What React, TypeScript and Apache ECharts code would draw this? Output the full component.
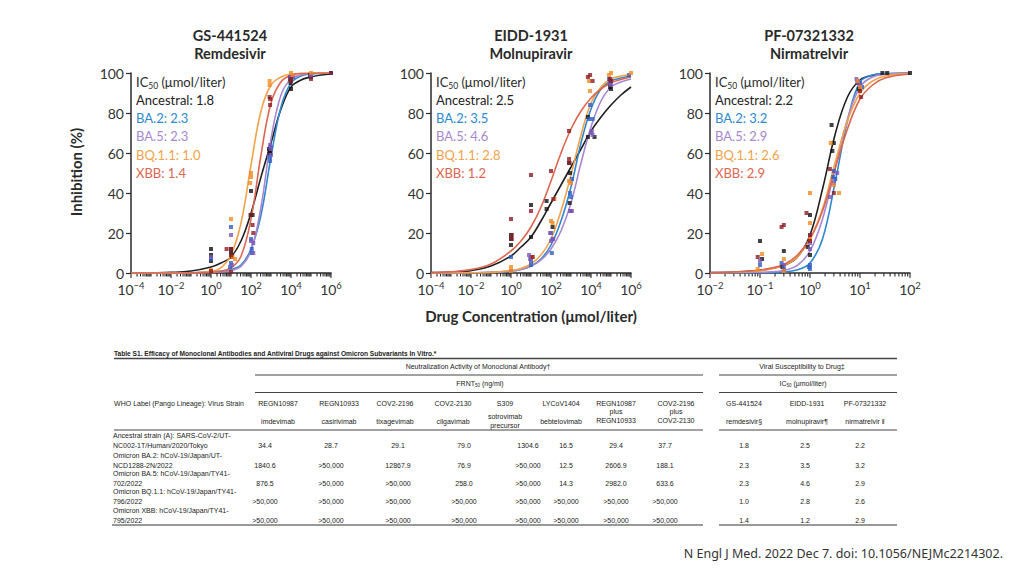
import React, { useEffect, useRef } from "react";
import * as echarts from "echarts";

// ---------- data ----------
const variants = ["Ancestral", "BA.2", "BA.5", "BQ.1.1", "XBB"];
const drugCodes = ["GS-441524", "EIDD-1931", "PF-07321332"];
const drugNames = ["Remdesivir", "Molnupiravir", "Nirmatrelvir"];

// IC50 (µmol/liter) per variant: [remdesivir, molnupiravir, nirmatrelvir]
const ic50 = [
  ["1.8", "2.5", "2.2"],
  ["2.3", "3.5", "3.2"],
  ["2.3", "4.6", "2.9"],
  ["1.0", "2.8", "2.6"],
  ["1.4", "1.2", "2.9"],
];

// fitted curve samples (concentration, inhibition %)
const curveXWide = [0.0001, 0.001, 0.01, 0.1, 1, 3.16, 10, 31.6, 100, 316, 1000, 3162, 10000, 31623, 100000, 316228, 1000000];
const curveXNarrow = [0.01, 0.0316, 0.1, 0.178, 0.316, 0.562, 1, 1.78, 3.16, 5.62, 10, 17.8, 31.6, 100];

const remCurves = [
  [0, 0.1, 0.3, 1, 3, 5, 8, 16, 30, 48, 65, 82, 93, 96.5, 98, 99, 99.5],
  [0, 0, 0, 0.1, 0.5, 1, 1.8, 4, 12, 29, 58, 83, 95, 98.5, 99.5, 99.8, 100],
  [0, 0, 0, 0.05, 0.3, 0.6, 1.2, 3.3, 11, 33, 67, 89, 97, 99, 99.7, 99.9, 100],
  [0, 0, 0, 0.1, 0.8, 2.7, 9, 25, 54, 81, 94, 98, 99.4, 99.8, 99.9, 100, 100],
  [0, 0, 0, 0.05, 0.3, 0.8, 2.5, 8.4, 27, 59, 85, 95.6, 98.9, 99.7, 99.9, 100, 100],
];
const molCurves = [
  [0.2, 0.5, 1.2, 3.5, 8.5, 13, 18, 26, 35, 44, 53, 62, 71, 78, 84, 89, 93],
  [0, 0, 0.1, 0.3, 1, 1.8, 3.5, 7, 14, 26, 43, 65, 82, 92, 96, 97.5, 98.5],
  [0, 0, 0.1, 0.3, 1, 1.8, 3.3, 6.5, 12, 21, 35, 55, 73, 86, 93, 95.5, 97],
  [0, 0, 0.1, 0.3, 1.2, 2.3, 4.5, 9, 17, 31, 49, 69, 85, 93, 97, 98.5, 99],
  [0.2, 0.6, 1.7, 4.5, 11, 16, 23, 33, 46, 60, 72, 81, 87.5, 92, 95, 96.8, 98],
];
const nirCurves = [
  [0.2, 0.5, 1.3, 2.4, 4, 8, 19, 42, 69, 88, 96.5, 98.8, 99.5, 100],
  [0, 0.05, 0.1, 0.25, 0.6, 1.6, 5, 17, 45, 76, 95.5, 99, 99.8, 100],
  [0.1, 0.2, 0.3, 0.6, 1.4, 3.8, 11, 27, 52, 77, 93, 98, 99.4, 100],
  [0.15, 0.4, 1.2, 2.2, 4, 8, 17, 32, 55, 76, 90, 96, 98.5, 99.7],
  [0.2, 0.5, 1.5, 2.6, 4.5, 9, 17, 31, 52, 72, 87, 94, 97.5, 99.5],
];

// measured points [concentration, inhibition %]
const remPoints = [
  [[1, 12], [1, 9], [1, 6], [10, 12], [10, 10], [11, 8], [100, 41], [95, 29], [120, 29], [800, 62], [850, 61], [900, 60], [9000, 97], [9500, 95], [10000, 92], [90000, 99], [100000, 98], [1000000, 100]],
  [[1, 7], [10, 23], [10, 5], [9, 3], [100, 17], [110, 12], [110, 10], [850, 58], [900, 56], [950, 63], [9000, 98], [12000, 98], [100000, 99], [1000000, 100]],
  [[1, 8], [10, 19], [11, 4], [100, 16], [130, 15], [130, 10], [900, 64], [950, 62], [1000, 59], [10000, 98], [13000, 98], [100000, 98]],
  [[1, 1.5], [10, 27], [12, 8], [16, 7], [100, 50], [100, 48], [90, 45], [850, 96], [850, 94], [10000, 100], [12000, 99], [100000, 100]],
  [[1, 1], [6, 12], [10, 12], [10, 9], [10, 0.5], [100, 29], [120, 24], [130, 20], [850, 88], [900, 87], [900, 84], [10000, 96], [10000, 97], [100000, 97], [1000000, 100]],
];
const molPoints = [
  [[1, 19], [1, 17], [1, 14], [10, 34], [10, 18], [60, 36], [60, 32], [120, 23], [800, 55], [900, 50], [850, 35], [7000, 78], [7000, 68], [15000, 68], [90000, 93], [100000, 92]],
  [[1, 8], [10, 6], [10, 4], [100, 20], [120, 17], [110, 10], [900, 40], [1100, 47], [1000, 38], [9000, 84], [12000, 77], [8000, 77], [80000, 97], [90000, 95], [800000, 99]],
  [[1, 1], [8, 9], [10, 8], [9, 7], [90, 20], [100, 16], [130, 17], [900, 31], [1000, 31], [1100, 31], [10000, 70], [12000, 69], [11000, 71], [90000, 96], [100000, 94]],
  [[1, 3], [1, 1], [12, 8], [100, 26], [150, 37], [120, 25], [800, 46], [1000, 45], [8000, 96], [9000, 91], [80000, 99], [100000, 100], [1000000, 100]],
  [[1, 27], [1.1, 19], [1.1, 17], [10, 49], [10, 31], [12, 8], [100, 51], [130, 37], [800, 71], [800, 57], [850, 55], [7000, 98], [9000, 99], [12000, 96], [90000, 97], [100000, 96]],
];
const nirPoints = [
  [[0.1, 16], [0.11, 7], [0.3, 11], [0.28, 3], [0.9, 13], [1, 29], [1, 9], [2.7, 74], [3, 65], [2.8, 61], [9, 95], [9.5, 92], [28, 100], [35, 100], [100, 100]],
  [[0.1, 4], [0.27, 5], [0.3, 2], [1, 4], [1, 2], [0.95, 3], [2.9, 48], [3, 51], [3.2, 47], [9, 96], [10, 95], [11, 93]],
  [[0.1, 6], [0.3, 4], [0.3, 1.5], [1, 19], [1, 15], [1, 12], [2.5, 38], [3, 45], [3.5, 50], [8.5, 97], [9, 95], [10, 94]],
  [[0.09, 2], [0.11, 9.5], [0.3, 7], [0.3, 1], [1, 40], [1, 25], [1, 17], [2.6, 65], [3, 44], [3.8, 40], [9, 96], [10, 93]],
  [[0.09, 8], [0.27, 23], [0.3, 24], [0.85, 30], [1, 19], [1, 16], [2.5, 52], [3, 40], [10, 91], [10.5, 88]],
];

// axis ranges / ticks
const xMin = [1e-4, 1e-4, 1e-2];
const xMax = [1e6, 1e6, 1e2];
const decadeStart = [-4, -4, -2];
const decadeEnd = [6, 6, 2];
const labelStep = [2, 2, 1]; // a labelled major tick every n decades
const minorMultipliers = [2, 3, 4, 5, 6, 7, 8, 9];

// table
const strainLabels = [
  ["Ancestral strain (A): SARS-CoV-2/UT-", "NC002-1T/Human/2020/Tokyo"],
  ["Omicron BA.2: hCoV-19/Japan/UT-", "NCD1288-2N/2022"],
  ["Omicron BA.5: hCoV-19/Japan/TY41-", "702/2022"],
  ["Omicron BQ.1.1: hCoV-19/Japan/TY41-", "796/2022"],
  ["Omicron XBB: hCoV-19/Japan/TY41-", "795/2022"],
];
const antibodyCodes = ["REGN10987", "REGN10933", "COV2-2196", "COV2-2130", "S309", "LYCoV1404", "REGN10987", "COV2-2196"];
const antibodyNames = ["imdevimab", "casirivimab", "tixagevimab", "cilgavimab", "sotrovimab\nprecursor", "bebtelovimab", "plus\nREGN10933", "plus\nCOV2-2130"];
const drugTableNames = ["remdesivir§", "molnupiravir¶", "nirmatrelvir ‖"];
const frnt50 = [
  ["34.4", "28.7", "29.1", "79.0", "1304.6", "16.5", "29.4", "37.7"],
  ["1840.6", ">50,000", "12867.9", "76.9", ">50,000", "12.5", "2606.9", "188.1"],
  ["876.5", ">50,000", ">50,000", "258.0", ">50,000", "14.3", "2982.0", "633.6"],
  [">50,000", ">50,000", ">50,000", ">50,000", ">50,000", ">50,000", ">50,000", ">50,000"],
  [">50,000", ">50,000", ">50,000", ">50,000", ">50,000", ">50,000", ">50,000", ">50,000"],
];

// ---------- styles / layout ----------
const curveColors = ["#1f1f1f", "#2f88cf", "#a887d0", "#f2a24a", "#dc6650"];
const pointColors = ["#111111", "#2d5fc4", "#7a56b8", "#f58a22", "#8c1c24"];
const labelColors = ["#222222", "#2f88cf", "#a887d0", "#f2a24a", "#dc6650"];
const axisColor = "#2a2a2a";
const FONT = "Lato, 'Open Sans', sans-serif";
const TFONT = "'Liberation Sans', Arial, sans-serif";
const gridLeft = [131, 431, 710];
const legendLeft = [136, 436, 715];
const titleCenter = [230, 531, 809];
const headerCenters = [278, 339, 395, 453, 505, 561, 616, 676, 744, 807, 865];
const valueCenters = [265, 331, 398, 464, 528, 566, 616, 665, 744, 805, 860];
const rowValueY = [445, 465, 483, 501.5, 520];

const allCurves = [remCurves, molCurves, nirCurves];
const allPoints = [remPoints, molPoints, nirPoints];
const curveXs = [curveXWide, curveXWide, curveXNarrow];

// [value, tick length]
function ticksFor(i: number) {
  const out: number[][] = [];
  for (let e = decadeStart[i]; e <= decadeEnd[i]; e++) {
    const major = (e - decadeStart[i]) % labelStep[i] === 0;
    out.push([Math.pow(10, e), major ? 5 : 3.5]);
    if (e < decadeEnd[i]) minorMultipliers.forEach((m) => out.push([m * Math.pow(10, e), 3.5]));
  }
  return out;
}

function txt(x: number, y: number, text: string, o: any = {}) {
  return {
    type: "text",
    x,
    y,
    silent: true,
    rotation: o.rotation || 0,
    style: {
      text,
      fill: o.color || "#222",
      fontSize: o.size || 7,
      fontFamily: o.family || TFONT,
      fontWeight: o.bold ? "bold" : "normal",
      align: o.align || "center",
      verticalAlign: "middle",
      textAlign: o.align || "center",
      textVerticalAlign: "middle",
      lineHeight: o.lh,
      rich: o.rich,
    },
  };
}
function hline(x1: number, x2: number, y: number, w = 1, c = "#444") {
  return { type: "line", silent: true, shape: { x1, y1: y, x2, y2: y }, style: { stroke: c, lineWidth: w } };
}

function buildOption() {
  const series: any[] = [];
  [0, 1, 2].forEach((i) => {
    series.push({
      type: "custom",
      xAxisIndex: i,
      yAxisIndex: i,
      silent: true,
      clip: false,
      data: ticksFor(i),
      renderItem: (_p: any, api: any) => {
        const p = api.coord([api.value(0), 0]);
        return { type: "line", shape: { x1: p[0], y1: p[1], x2: p[0], y2: p[1] + api.value(1) }, style: { stroke: axisColor, lineWidth: 1.1 } };
      },
    });
    variants.forEach((_v, j) => {
      series.push({
        type: "line",
        xAxisIndex: i,
        yAxisIndex: i,
        data: curveXs[i].map((x, k) => [x, allCurves[i][j][k]]),
        showSymbol: false,
        smooth: 0.4,
        lineStyle: { color: curveColors[j], width: 1.6 },
        z: 2,
      });
    });
    variants.forEach((_v, j) => {
      series.push({
        type: "scatter",
        xAxisIndex: i,
        yAxisIndex: i,
        data: allPoints[i][j],
        symbol: "rect",
        symbolSize: 4,
        itemStyle: { color: pointColors[j] },
        z: 3,
      });
    });
  });

  const graphic: any[] = [];
  const LEG = 13;
  [0, 1, 2].forEach((i) => {
    graphic.push(txt(titleCenter[i], 35, drugCodes[i], { size: 14.5, bold: true, family: FONT, color: "#2a2a2a" }));
    graphic.push(txt(titleCenter[i], 53, drugNames[i], { size: 14.5, bold: true, family: FONT, color: "#2a2a2a" }));
    graphic.push(
      txt(legendLeft[i], 82, "{a|IC}{s|50}{a| (μmol/liter)}", {
        align: "left",
        family: FONT,
        size: LEG,
        color: "#2a2a2a",
        rich: {
          a: { fontSize: LEG, fontFamily: FONT, fill: "#2a2a2a", color: "#2a2a2a", lineHeight: 16 },
          s: { fontSize: 8.5, fontFamily: FONT, fill: "#2a2a2a", color: "#2a2a2a", lineHeight: 10, verticalAlign: "bottom" },
        },
      })
    );
    variants.forEach((v, j) => {
      graphic.push(txt(legendLeft[i], 100 + j * 18.2, `${v}: ${ic50[j][i]}`, { align: "left", family: FONT, size: LEG, color: labelColors[j] }));
    });
  });
  graphic.push(txt(76, 172, "Inhibition (%)", { size: 15, bold: true, family: FONT, color: "#2a2a2a", rotation: Math.PI / 2 }));
  graphic.push(txt(531, 316, "Drug Concentration (μmol/liter)", { size: 15, bold: true, family: FONT, color: "#2a2a2a" }));

  // table
  graphic.push(txt(114, 353, "Table S1. Efficacy of Monoclonal Antibodies and Antiviral Drugs against Omicron Subvariants In Vitro.*", { align: "left", bold: true, size: 6.6 }));
  graphic.push(hline(114, 897, 358.5, 1.4));
  graphic.push(txt(478, 366.5, "Neutralization Activity of Monoclonal Antibody†"));
  graphic.push(txt(802, 366.5, "Viral Susceptibility to Drug‡"));
  graphic.push(hline(255, 703, 375));
  graphic.push(hline(719, 897, 375));
  const subRich = {
    a: { fontSize: 7, fontFamily: TFONT, fill: "#222", color: "#222", lineHeight: 9 },
    s: { fontSize: 4.5, fontFamily: TFONT, fill: "#222", color: "#222", lineHeight: 5, verticalAlign: "bottom" },
  };
  graphic.push(txt(480, 383.5, "{a|FRNT}{s|50}{a| (ng/ml)}", { rich: subRich }));
  graphic.push(txt(803, 383.5, "{a|IC}{s|50}{a| (µmol/liter)}", { rich: subRich }));
  graphic.push(hline(255, 703, 392.5));
  graphic.push(hline(719, 897, 392.5));
  graphic.push(txt(179, 403, "WHO Label (Pango Lineage): Virus Strain"));
  antibodyCodes.forEach((c, k) => graphic.push(txt(headerCenters[k], 403, c)));
  drugCodes.forEach((c, k) => graphic.push(txt(headerCenters[8 + k], 403, c)));
  antibodyNames.forEach((n, k) => {
    const multi = n.indexOf("\n") >= 0;
    const y = multi ? (k === 4 ? 421 : 416) : 421;
    graphic.push(txt(headerCenters[k], y, n, { lh: 8.5 }));
  });
  drugTableNames.forEach((n, k) => graphic.push(txt(headerCenters[8 + k], 421, n)));
  graphic.push(hline(114, 703, 430));
  graphic.push(hline(719, 897, 430));
  strainLabels.forEach((lines, r) => {
    graphic.push(txt(113, rowValueY[r] - 10, lines[0], { align: "left" }));
    graphic.push(txt(113, rowValueY[r], lines[1], { align: "left" }));
    frnt50[r].forEach((v, k) => graphic.push(txt(valueCenters[k], rowValueY[r], v)));
    ic50[r].forEach((v, k) => graphic.push(txt(valueCenters[8 + k], rowValueY[r], v)));
  });
  graphic.push(hline(112, 703, 525, 1.4, "#777"));
  graphic.push(hline(719, 897, 525, 1.4, "#777"));
  graphic.push(txt(1003, 553, "N Engl J Med. 2022 Dec 7. doi: 10.1056/NEJMc2214302.", { align: "right", size: 12.5, family: "'Noto Sans', sans-serif", color: "#333" }));

  return {
    animation: false,
    backgroundColor: "#ffffff",
    grid: [0, 1, 2].map((i) => ({ left: gridLeft[i], top: 73, width: 200, height: 200 })),
    xAxis: [0, 1, 2].map((i) => ({
      gridIndex: i,
      type: "log",
      logBase: 10,
      min: xMin[i],
      max: xMax[i],
      axisLine: { show: true, onZero: false, lineStyle: { color: axisColor, width: 1.5 } },
      axisTick: { show: false },
      splitLine: { show: false },
      axisLabel: {
        margin: 7,
        formatter: (v: number) => {
          const e = Math.round(Math.log10(v));
          if ((e - decadeStart[i]) % labelStep[i] !== 0) return "";
          return `{b|10}{e|${e < 0 ? "−" + -e : e}}`;
        },
        rich: {
          b: { fontSize: 14, fontFamily: FONT, color: "#333", lineHeight: 18 },
          e: { fontSize: 9.5, fontFamily: FONT, color: "#333", lineHeight: 11, verticalAlign: "top" },
        },
      },
    })),
    yAxis: [0, 1, 2].map((i) => ({
      gridIndex: i,
      type: "value",
      min: 0,
      max: 100,
      interval: 20,
      axisLine: { show: true, onZero: false, lineStyle: { color: axisColor, width: 1.5 } },
      axisTick: { show: true, length: 5, lineStyle: { color: axisColor, width: 1.2 } },
      splitLine: { show: false },
      axisLabel: { fontSize: 14, fontFamily: FONT, color: "#333", margin: 7 },
    })),
    series,
    graphic,
  };
}

export default function App() {
  const ref = useRef<HTMLDivElement>(null);
  useEffect(() => {
    if (!ref.current) return;
    const chart = echarts.init(ref.current, undefined, { renderer: "svg" });
    chart.setOption(buildOption() as any);
    return () => chart.dispose();
  }, []);
  return <div ref={ref} style={{ position: "absolute", left: 0, top: 0, width: 1024, height: 576, background: "#fff" }} />;
}
